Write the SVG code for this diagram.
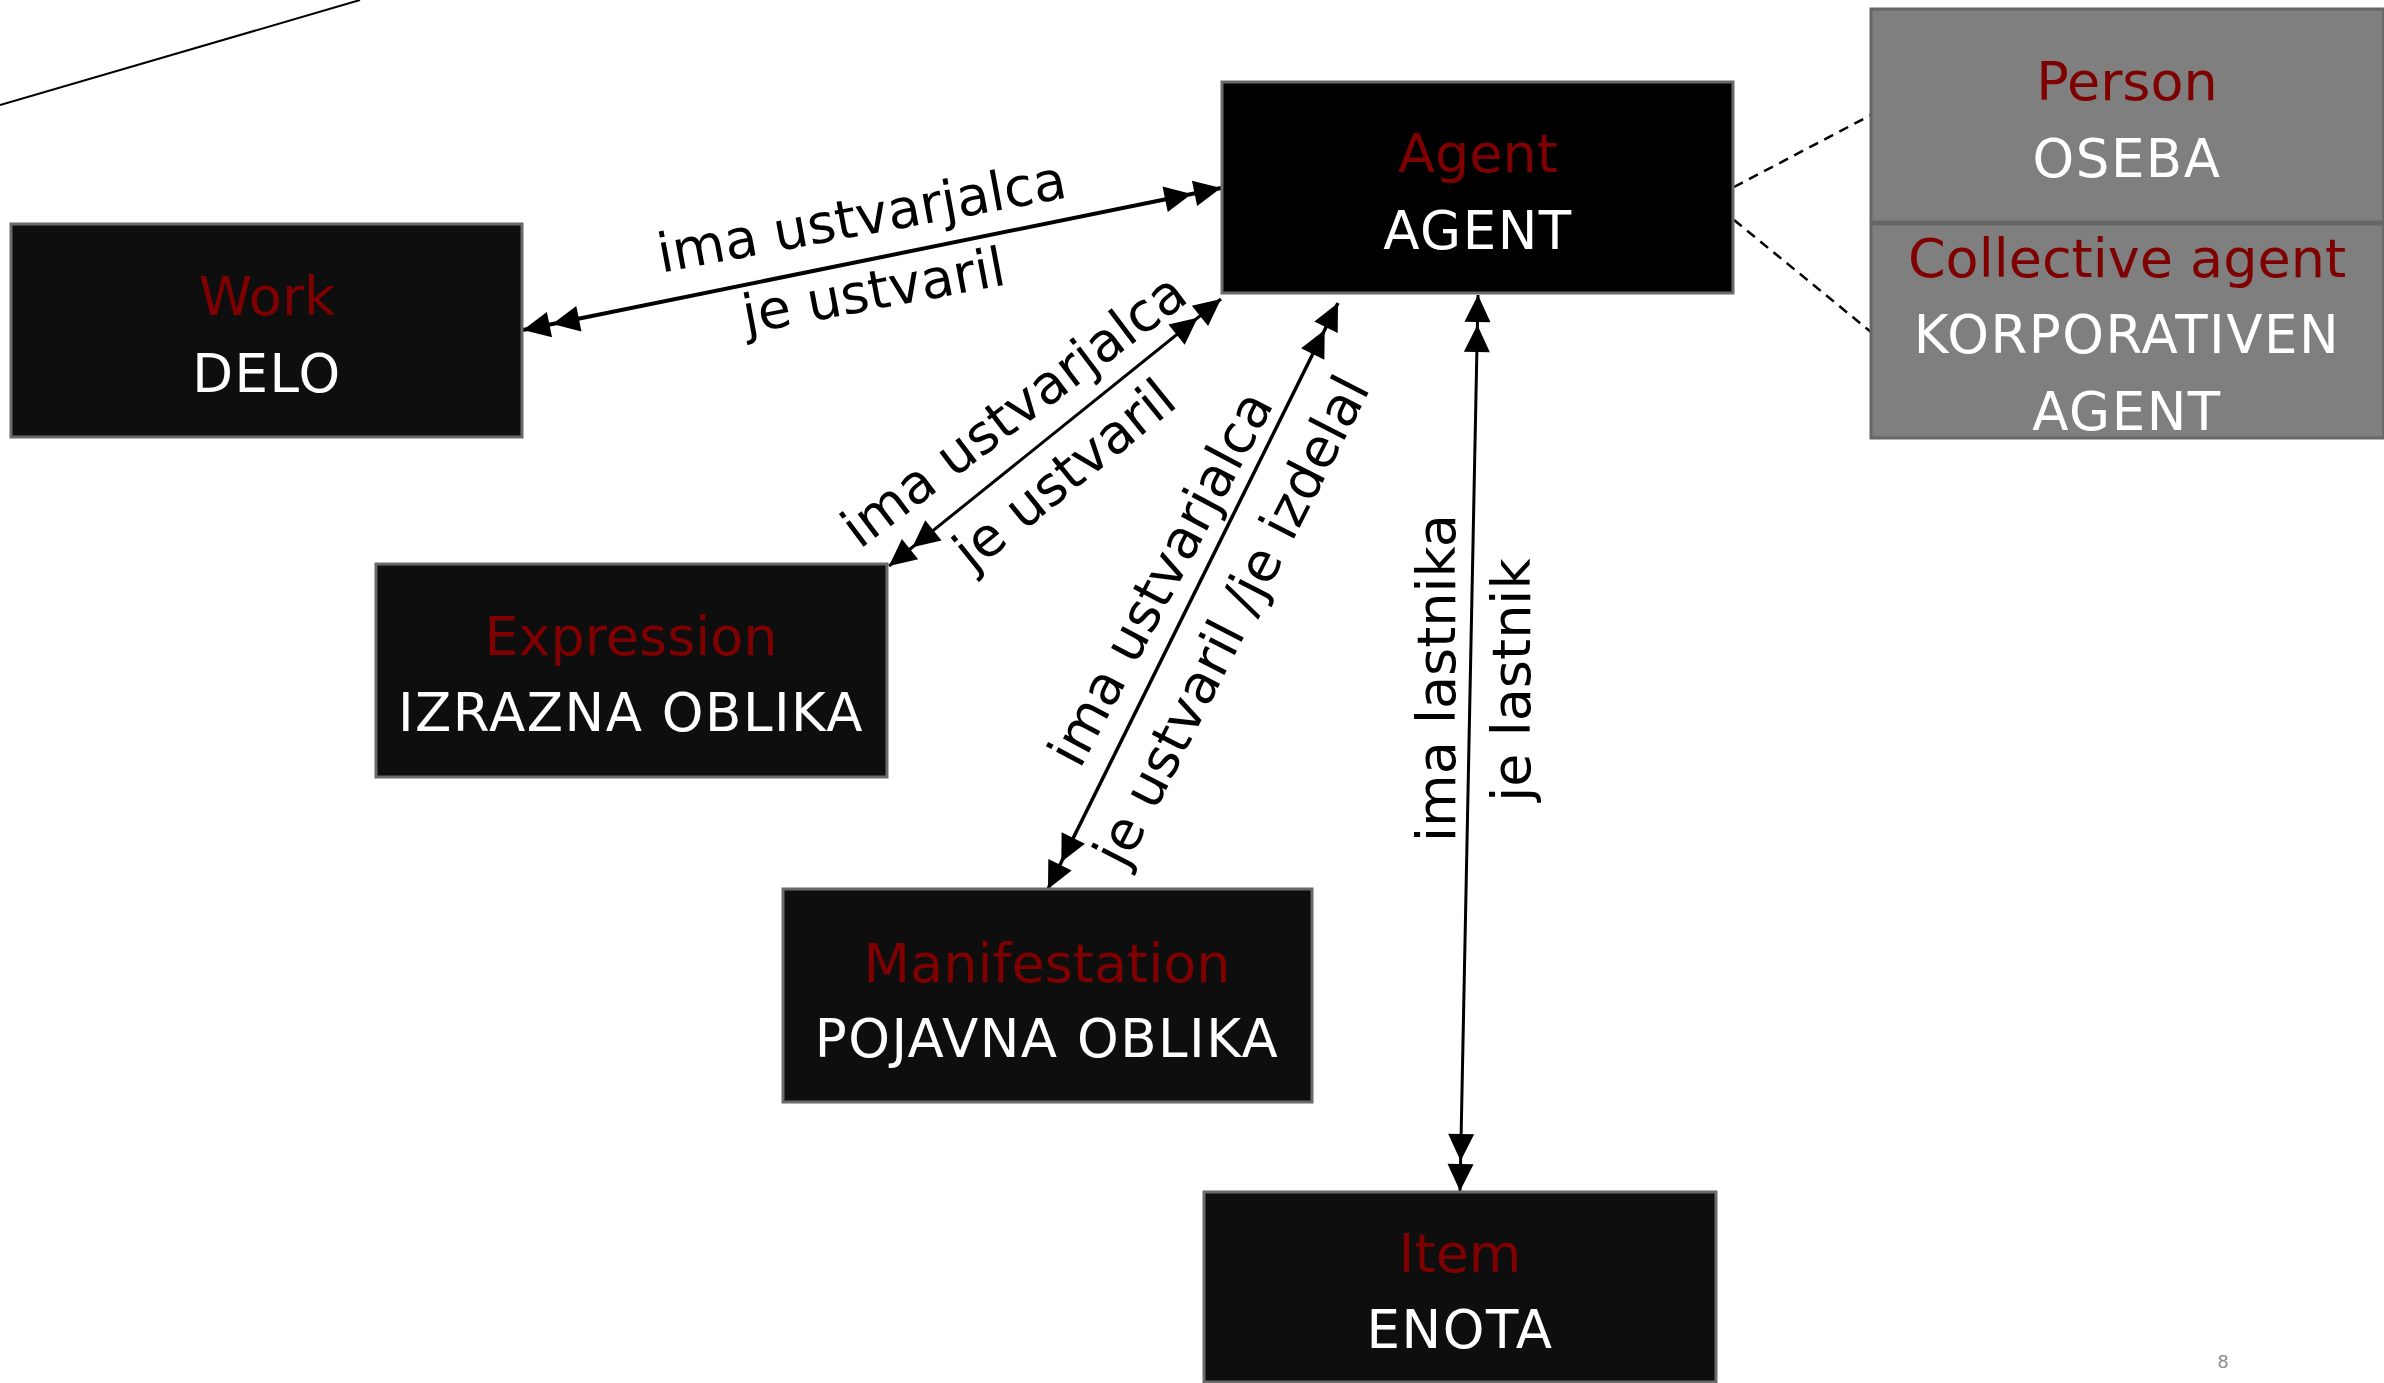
<svg xmlns="http://www.w3.org/2000/svg" width="2384" height="1383" viewBox="0 0 2384 1383">
<style>
  .box { fill: #0e0e0e; stroke: #6a6a6a; stroke-width: 3; }
  .box-agent { fill: #000000; stroke: #6a6a6a; stroke-width: 3; }
  .box-grey { fill: #7f7f7f; stroke: #666666; stroke-width: 3; }
  .en { font-family: "DejaVu Sans", "Liberation Sans", sans-serif; font-size: 54px; fill: #7f0000; text-anchor: middle; }
  .sl { font-family: "DejaVu Sans", "Liberation Sans", sans-serif; font-size: 53px; fill: #ffffff; text-anchor: middle; letter-spacing: 1.5px; }
  .lbl { font-family: "DejaVu Sans", "Liberation Sans", sans-serif; font-size: 54px; fill: #000000; text-anchor: middle; }
  .conn { stroke: #000000; fill: none; marker-start: url(#dbl); marker-end: url(#dbl); }
  .dash { stroke: #000000; fill: none; stroke-width: 2.5; stroke-dasharray: 10 7; }
</style>
<defs>
  <marker id="dbl" markerUnits="userSpaceOnUse" viewBox="-60 -15 62 30" markerWidth="62" markerHeight="30" refX="0" refY="0" orient="auto-start-reverse" overflow="visible">
    <path d="M0,0 L-27,-13 L-27,13 Z M-30,0 L-57,-13 L-57,13 Z" fill="#000000"/>
  </marker>
</defs>
<rect x="0" y="0" width="2384" height="1383" fill="#ffffff"/>

<line x1="0" y1="105" x2="360" y2="0" stroke="#000000" stroke-width="2"/>

<g id="connectors">
  <line class="conn" x1="523" y1="330" x2="1221" y2="188" stroke-width="4"/>
  <line class="conn" x1="889" y1="566" x2="1221" y2="299" stroke-width="3"/>
  <line class="conn" x1="1048" y1="889" x2="1338" y2="303" stroke-width="3.5"/>
  <line class="conn" x1="1460" y1="1191" x2="1478" y2="295" stroke-width="3"/>
  <line class="dash" x1="1734" y1="187" x2="1871" y2="115"/>
  <line class="dash" x1="1734" y1="220" x2="1871" y2="332"/>
  <text class="lbl" transform="translate(865,235) rotate(-10.5)">ima ustvarjalca</text>
  <text class="lbl" transform="translate(877,309) rotate(-10.7)">je ustvaril</text>
  <text class="lbl" transform="translate(1025,425) rotate(-37)">ima ustvarjalca</text>
  <text class="lbl" transform="translate(1076,489) rotate(-39)">je ustvaril</text>
  <text class="lbl" transform="translate(1177,587) rotate(-62)">ima ustvarjalca</text>
  <text class="lbl" transform="translate(1248,629) rotate(-63)">je ustvaril /je izdelal</text>
  <text class="lbl" transform="translate(1455,678) rotate(-90)">ima lastnika</text>
  <text class="lbl" transform="translate(1530,680) rotate(-90)">je lastnik</text>
</g>

<g id="work">
  <rect class="box" x="11" y="224" width="511" height="213"/>
  <text class="en" x="267" y="315">Work</text>
  <text class="sl" x="267" y="392">DELO</text>
</g>
<g id="agent">
  <rect class="box-agent" x="1222" y="82" width="511" height="211"/>
  <text class="en" x="1478" y="172">Agent</text>
  <text class="sl" x="1478" y="249">AGENT</text>
</g>
<g id="person">
  <rect class="box-grey" x="1871" y="9" width="513" height="213"/>
  <text class="en" x="2127" y="100">Person</text>
  <text class="sl" x="2127" y="177">OSEBA</text>
</g>
<g id="collective-agent">
  <rect class="box-grey" x="1871" y="224" width="513" height="214"/>
  <text class="en" x="2127" y="277">Collective agent</text>
  <text class="sl" x="2127" y="353">KORPORATIVEN</text>
  <text class="sl" x="2127" y="430">AGENT</text>
</g>
<g id="expression">
  <rect class="box" x="376" y="564" width="511" height="213"/>
  <text class="en" x="631" y="655">Expression</text>
  <text class="sl" x="631" y="731">IZRAZNA OBLIKA</text>
</g>
<g id="manifestation">
  <rect class="box" x="783" y="889" width="529" height="213"/>
  <text class="en" x="1047" y="982">Manifestation</text>
  <text class="sl" x="1047" y="1057">POJAVNA OBLIKA</text>
</g>
<g id="item">
  <rect class="box" x="1204" y="1192" width="512" height="190"/>
  <text class="en" x="1460" y="1272">Item</text>
  <text class="sl" x="1460" y="1348">ENOTA</text>
</g>
<text x="2223" y="1368" font-family="Liberation Sans, sans-serif" font-size="19" fill="#8c8c8c" text-anchor="middle">8</text>
</svg>
